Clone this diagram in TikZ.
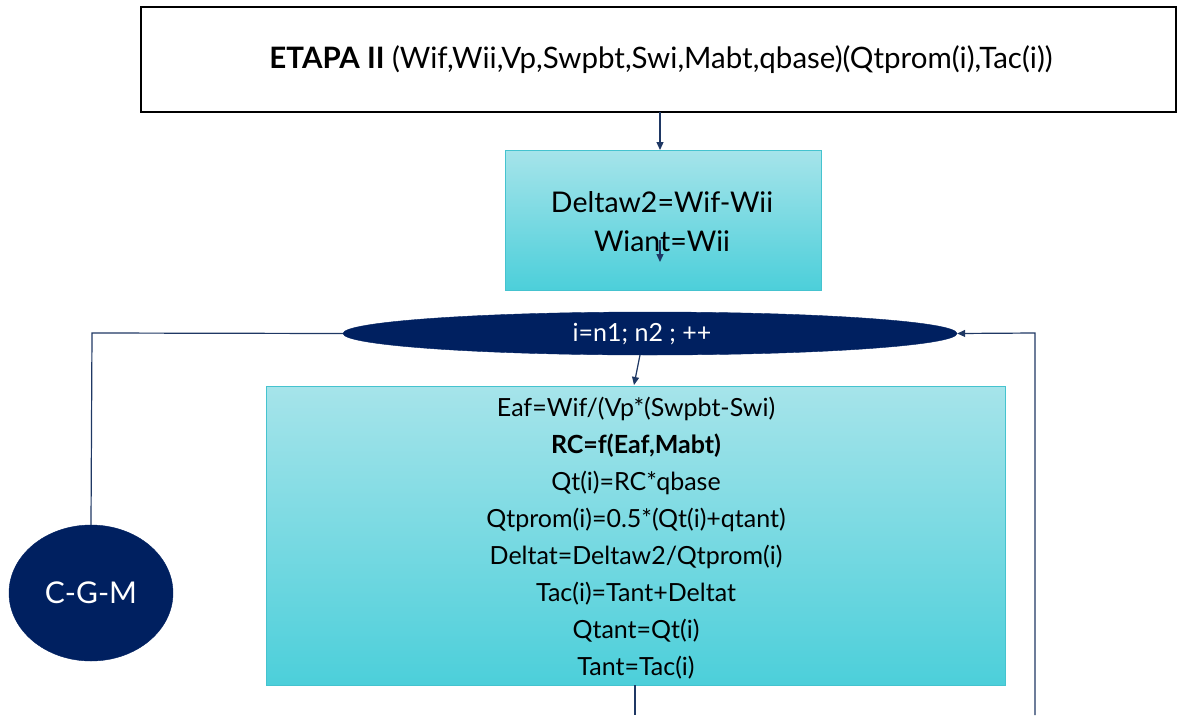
\documentclass[tikz,border=0pt]{standalone}
\usepackage{fontspec}
\setmainfont{Lato}
\usetikzlibrary{arrows.meta,shapes.geometric}
\definecolor{navy}{HTML}{002060}
\definecolor{linec}{HTML}{1F3864}
\definecolor{cyantop}{HTML}{A6E4EA}
\definecolor{cyanbot}{HTML}{4CCFDA}
\definecolor{cyanborder}{HTML}{45C3CF}
\tikzset{
  x=1pt, y=-1pt,
  cbox/.style={draw=cyanborder, line width=1pt, top color=cyantop, bottom color=cyanbot, inner sep=0pt, align=center, text=black},
  navyell/.style={ellipse, fill=navy, draw=navy, inner sep=0pt, text=white},
  conn/.style={draw=linec, line width=1.2pt},
  arr/.style={conn, -{Triangle[length=8pt,width=7pt]}},
}
\begin{document}
\begin{tikzpicture}
\useasboundingbox (0,0) rectangle (1185,715);
% top box
\node[draw=black, line width=1.6pt, minimum width=1035pt, minimum height=105pt, inner sep=0pt] (top) at (658.5,59.5) {};
\node[font=\fontsize{29.5}{34}\selectfont] (toptext) at (661,60) {\textbf{ETAPA II} (Wif,Wii,Vp,Swpbt,Swi,Mabt,qbase)(Qtprom(i),Tac(i))};
% box 2
\node[cbox, minimum width=316pt, minimum height=140pt] (b2) at (663,220) {};
\node[font=\fontsize{28.5}{39}\selectfont, align=center] (b2text) at (662,222) {Deltaw2=Wif-Wii\\Wiant=Wii};
% loop ellipse
\node[navyell, minimum width=614pt, minimum height=43pt] (loop) at (650,333.5) {};
\node[font=\fontsize{25}{28}\selectfont, text=white] (looptext) at (642,334) {i=n1;\ n2\ ;\ ++};
% big box
\node[cbox, minimum width=739pt, minimum height=299pt] (big) at (635.5,535.5) {};
\node[font=\fontsize{25}{37}\selectfont, align=center] (bigtext) at (636,538) {Eaf=Wif/(Vp*(Swpbt-Swi)\\\textbf{RC=f(Eaf,Mabt)}\\Qt(i)=RC*qbase\\Qtprom(i)=0.5*(Qt(i)+qtant)\\Deltat=Deltaw2/Qtprom(i)\\Tac(i)=Tant+Deltat\\Qtant=Qt(i)\\Tant=Tac(i)};
% C-G-M
\node[navyell, minimum width=164pt, minimum height=136pt, font=\fontsize{30}{34}\selectfont] (cgm) at (91,593) {C-G-M};
% coordinates
\coordinate (topout) at (660,112);
\coordinate (b2in) at (660,150);
\coordinate (s1) at (660,240);
\coordinate (s2) at (660,262);
\coordinate (loopout) at (640,355);
\coordinate (bigin) at (634,385);
\coordinate (bigout) at (635,685);
\coordinate (bottomend) at (635,715);
\coordinate (rightend) at (1035,715);
\coordinate (rightcorner) at (1035,333);
\coordinate (leftcorner) at (92,333);
% connectors
\draw[arr] (topout) -- (b2in);
\draw[arr] (s1) -- (s2);
\draw[arr] (loopout) -- (bigin);
\draw[conn] (bigout) -- (bottomend);
\draw[arr] (rightend) -- (rightcorner) -- (loop.east);
\draw[conn] (cgm.north) -- (leftcorner) -- (loop.west);
\end{tikzpicture}
\end{document}
